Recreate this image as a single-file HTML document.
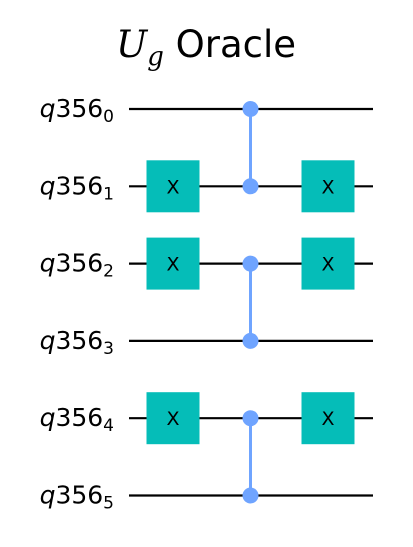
<!DOCTYPE html>
<html><head><meta charset="utf-8"><style>
html,body{margin:0;padding:0;background:#fff;}
svg{display:block;font-family:"DejaVu Sans","Liberation Sans",sans-serif;}
</style></head><body>
<svg id="c" width="413" height="547" viewBox="0 0 413 547">
<text x="206" y="57" text-anchor="middle" font-size="37" fill="#000"><tspan font-family="DejaVu Serif, serif" font-style="italic">U</tspan><tspan font-family="DejaVu Serif, serif" font-style="italic" font-size="26" dy="8">g</tspan><tspan dy="-8"> Oracle</tspan></text>
<g id="g"></g>
</svg>
<script>
const qubits=[0,1,2,3,4,5];
const xGates=[[1,0],[2,0],[4,0],[1,2],[2,2],[4,2]]; // [qubit, column]
const cz=[[0,1],[2,3],[4,5]];
const NS="http://www.w3.org/2000/svg";
const g=document.getElementById('g');
const wy=q=>109+q*77.3;
const cx=c=>173+c*77.5;
function mk(t,a){const e=document.createElementNS(NS,t);for(const k in a)e.setAttribute(k,a[k]);g.appendChild(e);return e;}
qubits.forEach(q=>{
  const l=mk('line',{x1:129,x2:373,y1:wy(q),y2:wy(q),stroke:'#000','stroke-width':2.2});
  
  
  const t=mk('text',{x:114,y:wy(q)+8,'text-anchor':'end','font-size':25,fill:'#000'});
  
  
  t.innerHTML='<tspan font-style="italic">q</tspan>356<tspan font-size="17" dy="5">'+q+'</tspan>';
});
cz.forEach(([a,b])=>{
  const x=cx(1);
  const l=mk('line',{x1:x,x2:x,y1:wy(a),y2:wy(b),stroke:'#6fa4ff','stroke-width':3});
  
  
  [a,b].forEach(q=>{
    const d=mk('circle',{cx:x,cy:wy(q),r:8,fill:'#6fa4ff'});
    
    
  });
});
xGates.forEach(([q,c])=>{
  const r=mk('rect',{x:cx(c)-26.5,y:wy(q)-26,width:53,height:52,fill:'#05bdb8'});
  
  
  const t=mk('text',{x:cx(c),y:wy(q)+7,'text-anchor':'middle','font-size':19,fill:'#000'});
  t.textContent='X';
  
  
});
</script>
</body></html>
